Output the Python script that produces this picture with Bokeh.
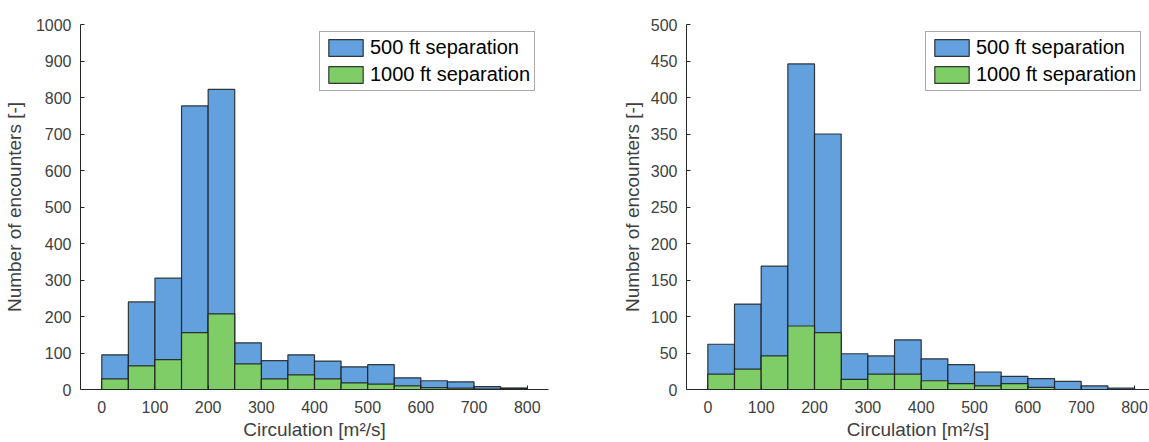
from bokeh.plotting import figure
from bokeh.layouts import row
from bokeh.models import ColumnDataSource, Legend, LegendItem, FixedTicker
from bokeh.embed import file_html
from bokeh.resources import INLINE

# ---- data ----
bin_edges = [0, 50, 100, 150, 200, 250, 300, 350, 400, 450, 500, 550, 600, 650, 700, 750, 800]
sep500_left = [95, 240, 305, 777, 822, 128, 79, 95, 78, 62, 68, 32, 24, 21, 8, 4]
sep1000_left = [29, 65, 82, 156, 207, 70, 29, 40, 29, 18, 15, 10, 5, 4, 1, 3]
sep500_right = [62, 117, 169, 446, 350, 49, 46, 68, 42, 34, 24, 18, 15, 11, 5, 2]
sep1000_right = [21, 28, 46, 87, 78, 14, 21, 21, 12, 8, 5, 8, 3, 0, 0, 0]
x_ticks = [0, 100, 200, 300, 400, 500, 600, 700, 800]
y_ticks_left = list(range(0, 1001, 100))
y_ticks_right = list(range(0, 501, 50))
labels = ["500 ft separation", "1000 ft separation"]

FONT = "Liberation Sans"
AX = "#262626"
BLUE = "#62a1de"
GREEN = "#7ecd67"


def make(blue, green, ymax, yticks, xmax, width, bl, br, legend_loc, ylab_standoff):
    p = figure(width=width, height=442, output_backend="svg", toolbar_location=None,
               x_range=(-40, xmax), y_range=(0, ymax),
               min_border_left=bl, min_border_right=br, min_border_top=24, min_border_bottom=53)
    lefts = bin_edges[:-1]
    rights = bin_edges[1:]
    sb = ColumnDataSource(dict(left=lefts, right=rights, top=blue, bottom=[0] * len(blue)))
    sg = ColumnDataSource(dict(left=lefts, right=rights, top=green, bottom=[0] * len(green)))
    rb = p.quad(left="left", right="right", top="top", bottom="bottom", source=sb,
                fill_color=BLUE, line_color="#1a1a1a", line_alpha=0.85, line_width=1.2)
    rg = p.quad(left="left", right="right", top="top", bottom="bottom", source=sg,
                fill_color=GREEN, line_color="#1a1a1a", line_alpha=0.85, line_width=1.2)
    p.xgrid.visible = False
    p.ygrid.visible = False
    p.outline_line_color = None
    p.background_fill_color = "white"
    p.border_fill_color = "white"

    p.xaxis.ticker = FixedTicker(ticks=x_ticks)
    p.yaxis.ticker = FixedTicker(ticks=yticks)
    p.xaxis.axis_label = "Circulation [m²/s]"
    p.yaxis.axis_label = "Number of encounters [-]"
    for ax in (p.xaxis, p.yaxis):
        ax.axis_line_color = AX
        ax.major_tick_line_color = AX
        ax.major_tick_in = 4
        ax.major_tick_out = 0
        ax.minor_tick_line_color = None
        ax.major_label_text_font = FONT
        ax.major_label_text_font_size = "16px"
        ax.major_label_text_color = "#404040"
        ax.axis_label_text_font = FONT
        ax.axis_label_text_font_size = "19px"
        ax.axis_label_text_font_style = "normal"
        ax.axis_label_text_color = "#404040"
    p.xaxis.major_label_standoff = 11
    p.xaxis.axis_label_standoff = 3
    p.yaxis.major_label_standoff = 9
    p.yaxis.axis_label_standoff = ylab_standoff

    legend = Legend(items=[LegendItem(label=labels[0], renderers=[rb]),
                           LegendItem(label=labels[1], renderers=[rg])],
                    location=legend_loc)
    legend.label_text_font = FONT
    legend.label_text_font_size = "20px"
    legend.label_text_color = "black"
    legend.glyph_width = 43
    legend.glyph_height = 21
    legend.label_standoff = 3
    legend.padding = 4
    legend.spacing = 4
    legend.margin = 0
    legend.border_line_color = "#555555"
    legend.border_line_width = 1
    legend.background_fill_color = "white"
    legend.background_fill_alpha = 1
    p.add_layout(legend, "center")
    return p


p1 = make(sep500_left, sep1000_left, 1000, y_ticks_left, 840, 558, 80, 10, (239, 298), 8)
p2 = make(sep500_right, sep1000_right, 500, y_ticks_right, 828, 591, 128, 0, (239, 298), 5)
layout = row(p1, p2)

open("out.html", "w").write(file_html(layout, INLINE))
